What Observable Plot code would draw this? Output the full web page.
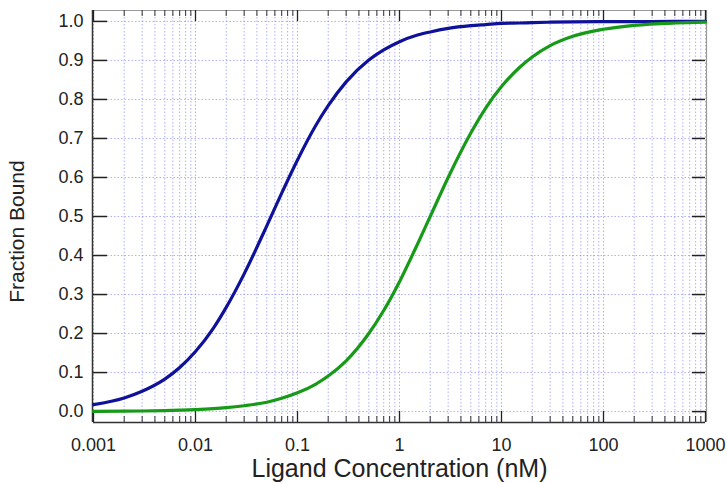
<!DOCTYPE html>
<html>
<head>
<meta charset="utf-8">
<script src="https://cdn.jsdelivr.net/npm/d3@7"></script>
<script src="https://cdn.jsdelivr.net/npm/@observablehq/plot@0.6"></script>
<style>
  html, body { margin: 0; padding: 0; background: #fff; }
  #chart svg { display: block; }
</style>
</head>
<body>
<div id="chart"></div>
<script>
// Data
const concentration = [0.001, 0.002, 0.003, 0.005, 0.007, 0.01, 0.015, 0.02, 0.03, 0.05, 0.07, 0.1, 0.15, 0.2, 0.3, 0.5, 0.7, 1, 1.5, 2, 3, 5, 7, 10, 15, 20, 30, 50, 100, 200, 500, 1000];
const blueBound = [0.018, 0.035, 0.052, 0.083, 0.113, 0.154, 0.214, 0.267, 0.353, 0.476, 0.560, 0.645, 0.732, 0.784, 0.845, 0.901, 0.927, 0.948, 0.965, 0.973, 0.982, 0.989, 0.992, 0.995, 0.996, 0.997, 0.998, 0.999, 0.9995, 0.9997, 0.9999, 1.0];
const greenBound = [0.0005, 0.001, 0.0015, 0.0025, 0.0035, 0.005, 0.0075, 0.010, 0.015, 0.024, 0.034, 0.048, 0.070, 0.091, 0.130, 0.200, 0.259, 0.333, 0.429, 0.500, 0.600, 0.714, 0.778, 0.833, 0.882, 0.909, 0.938, 0.962, 0.980, 0.990, 0.996, 0.998];
const xMajorTicks = [0.001, 0.01, 0.1, 1, 10, 100, 1000];
const xTickLabels = ["0.001", "0.01", "0.1", "1", "10", "100", "1000"];
const xMinorTicks = [0.002,0.003,0.004,0.005,0.006,0.007,0.008,0.009,
  0.02,0.03,0.04,0.05,0.06,0.07,0.08,0.09,
  0.2,0.3,0.4,0.5,0.6,0.7,0.8,0.9,
  2,3,4,5,6,7,8,9,
  20,30,40,50,60,70,80,90,
  200,300,400,500,600,700,800,900];
const yTicks = [0, 0.1, 0.2, 0.3, 0.4, 0.5, 0.6, 0.7, 0.8, 0.9, 1.0];
const xTitle = "Ligand Concentration (nM)";
const yTitle = "Fraction Bound";

const blueData = concentration.map((c, i) => ({c, f: blueBound[i]}));
const greenData = concentration.map((c, i) => ({c, f: greenBound[i]}));
const allX = xMajorTicks.concat(xMinorTicks);

const W = 727, H = 483, mL = 93, mR = 22, mT = 10, mB = 61;
const fw = W - mL - mR, fh = H - mT - mB;
const yDom = [-0.028, 1.028];
const gridStyle = {stroke: "#7a7aff", strokeOpacity: 0.6, strokeDasharray: "1.5,2", strokeWidth: 1};
const labelMap = new Map(xMajorTicks.map((t, i) => [t, xTickLabels[i]]));

const chart = Plot.plot({
  width: W, height: H,
  marginLeft: mL, marginRight: mR, marginTop: mT, marginBottom: mB,
  style: {fontFamily: "'Liberation Sans', Arial, sans-serif", background: "#fff", color: "#222"},
  x: {type: "log", domain: [0.001, 1000]},
  y: {domain: yDom},
  marks: [
    // grid
    Plot.ruleX(allX, gridStyle),
    Plot.ruleY(yTicks, gridStyle),
    // frame
    Plot.ruleY([yDom[1]], {stroke: "#999", strokeWidth: 1.2}),
    Plot.ruleX([1000], {stroke: "#999", strokeWidth: 1.2, dx: 1}),
    Plot.ruleX([0.001], {stroke: "#333", strokeWidth: 1.5, dx: -1}),
    Plot.ruleY([yDom[0]], {stroke: "#333", strokeWidth: 1.5}),
    // inside ticks bottom/top
    Plot.ruleX(xMajorTicks, {insetTop: fh - 11, stroke: "#222", strokeWidth: 1.3}),
    Plot.ruleX(xMinorTicks, {insetTop: fh - 6, stroke: "#333", strokeWidth: 1}),
    Plot.ruleX(xMajorTicks, {insetBottom: fh - 11, stroke: "#222", strokeWidth: 1.3}),
    Plot.ruleX(xMinorTicks, {insetBottom: fh - 6, stroke: "#333", strokeWidth: 1}),
    // inside ticks left/right
    Plot.ruleY(yTicks, {insetRight: fw - 14, stroke: "#222", strokeWidth: 1.5}),
    Plot.ruleY(yTicks, {insetLeft: fw - 13, stroke: "#222", strokeWidth: 1.5}),
    // curves
    Plot.line(blueData, {x: "c", y: "f", stroke: "#0f1299", strokeWidth: 3.2, curve: "monotone-x"}),
    Plot.line(greenData, {x: "c", y: "f", stroke: "#179a17", strokeWidth: 3.2, curve: "monotone-x"}),
    // axes labels
    Plot.axisX({ticks: xMajorTicks, tickSize: 0, tickPadding: 16, fontSize: 18, label: null, tickFormat: d => labelMap.get(d)}),
    Plot.axisY({ticks: yTicks, tickSize: 0, tickPadding: 10, fontSize: 18, label: null, tickFormat: d3.format(".1f")}),
    // titles
    Plot.text([xTitle], {frameAnchor: "bottom", textAnchor: "middle", lineAnchor: "middle", dx: 0, dy: 46, fontSize: 25, fill: "#222", text: d => d}),
    Plot.text([yTitle], {frameAnchor: "left", textAnchor: "middle", lineAnchor: "middle", dx: -76, dy: 15, rotate: -90, fontSize: 21, fill: "#222", text: d => d})
  ]
});
document.getElementById("chart").appendChild(chart);
</script>
</body>
</html>
